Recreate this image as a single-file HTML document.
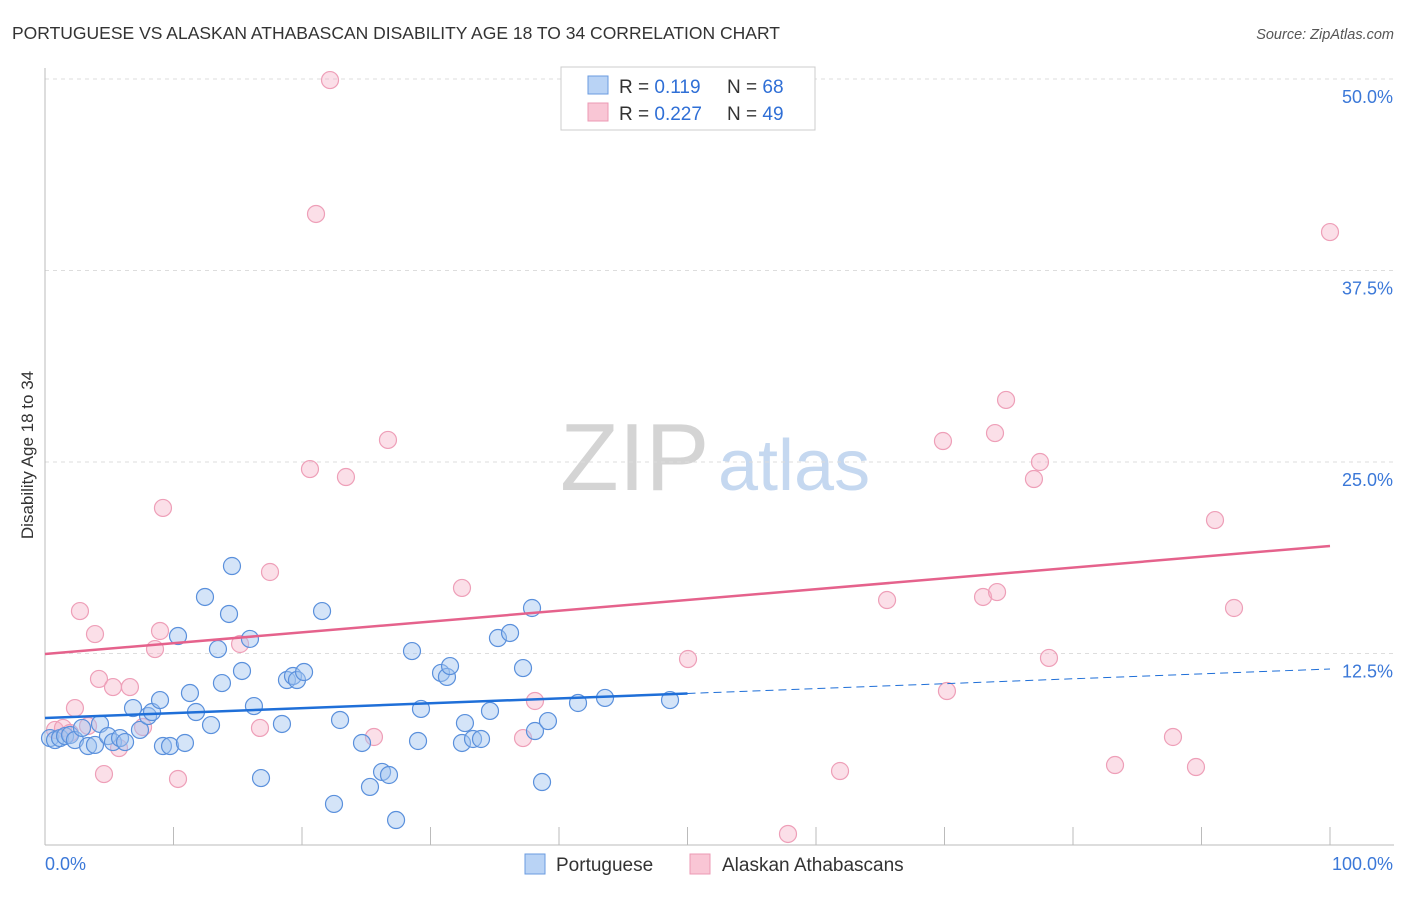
<!DOCTYPE html>
<html><head><meta charset="utf-8"><style>
body{margin:0;background:#fff;font-family:"Liberation Sans",sans-serif}
svg text{font-family:"Liberation Sans",sans-serif}
</style></head><body>
<svg id="chart" width="1406" height="892">
<text x="12" y="39" font-size="17.5" fill="#333">PORTUGUESE VS ALASKAN ATHABASCAN DISABILITY AGE 18 TO 34 CORRELATION CHART</text>
<text x="1394" y="39" font-size="14.5" fill="#555" font-style="italic" text-anchor="end">Source: ZipAtlas.com</text>
<text x="560" y="490" font-size="96" fill="#d4d4d4" font-family="Liberation Serif">ZIP</text>
<text x="718" y="490" font-size="72" fill="#c5d8f0">atlas</text>
<g id="grid"></g><g id="axes"></g><g id="marks"></g>
<text transform="translate(33,455) rotate(-90)" font-size="17" fill="#333" text-anchor="middle">Disability Age 18 to 34</text>
<g>
<rect x="561" y="67" width="254" height="63" fill="#fff" stroke="#ccc"/>
<rect x="588" y="76" width="20" height="18" fill="#b9d3f5" stroke="#6a9be0"/>
<rect x="588" y="103" width="20" height="18" fill="#f9c6d5" stroke="#ec9ab4"/>
<text x="619" y="93" font-size="19" fill="#333">R = <tspan fill="#2f6fd6"> 0.119</tspan><tspan x="727">N = </tspan><tspan fill="#2f6fd6">68</tspan></text>
<text x="619" y="120" font-size="19" fill="#333">R = <tspan fill="#2f6fd6">0.227</tspan><tspan x="727">N = </tspan><tspan fill="#2f6fd6">49</tspan></text>
</g>
<g>
<rect x="525" y="854" width="20" height="20" fill="#b9d3f5" stroke="#6a9be0"/>
<text x="556" y="871" font-size="19" fill="#333">Portuguese</text>
<rect x="690" y="854" width="20" height="20" fill="#f9c6d5" stroke="#ec9ab4"/>
<text x="722" y="871" font-size="19" fill="#333">Alaskan Athabascans</text>
</g>
</svg>
<script>
const yTicks=[12.5,25,37.5,50];
const yTickLabels=["12.5%","25.0%","37.5%","50.0%"];
const xTicks=[0,10,20,30,40,50,60,70,80,90,100];
const blueX=[0.39,0.78,1.17,1.56,1.95,2.33,2.88,3.35,3.89,4.28,4.90,5.29,5.84,6.23,6.85,7.39,8.02,8.33,8.95,9.18,9.73,10.35,10.89,11.28,11.75,12.45,12.92,13.46,13.77,14.32,14.55,15.33,15.95,16.26,16.81,18.44,18.83,19.30,19.61,20.16,21.56,22.49,22.96,24.67,25.29,26.23,26.77,27.32,28.56,29.26,29.03,30.82,31.28,31.52,32.45,32.68,33.31,33.93,34.63,35.25,36.19,37.20,37.90,38.13,38.68,39.14,41.48,43.58,48.64];
const blueY=[6.98,6.85,6.98,7.11,7.18,6.85,7.64,6.46,6.53,7.90,7.11,6.72,6.98,6.72,8.94,7.51,8.42,8.68,9.46,6.46,6.46,13.64,6.66,9.92,8.68,16.19,7.83,12.79,10.57,15.08,18.21,11.36,13.45,9.07,4.37,7.90,10.77,11.03,10.77,11.29,15.27,2.68,8.16,6.66,3.79,4.77,4.57,1.63,12.66,8.88,6.79,11.23,10.97,11.68,6.66,7.96,6.92,6.92,8.75,13.51,13.84,11.55,15.47,7.44,4.11,8.09,9.27,9.60,9.46];
const pinkX=[0.78,1.40,1.95,2.33,2.72,3.35,3.89,4.20,4.59,5.29,5.76,6.61,7.63,8.56,8.95,9.18,10.35,15.18,16.73,17.51,20.62,21.09,22.18,23.42,25.60,26.69,32.45,37.20,38.13,50.04,57.82,61.87,65.53,69.88,70.19,73.00,73.93,74.09,74.79,76.96,77.43,78.13,83.27,87.78,89.57,91.05,92.53,100];
const pinkY=[7.51,7.64,7.31,8.94,15.27,7.77,13.77,10.84,4.63,10.31,6.33,10.31,7.70,12.79,13.97,22.00,4.31,13.12,7.64,17.82,24.54,41.19,49.93,24.02,7.05,26.44,16.78,6.98,9.40,12.14,0.72,4.83,15.99,26.37,10.05,16.19,26.89,16.51,29.05,23.89,25.00,12.21,5.22,7.05,5.09,21.21,15.47,40.01];
const blueTrend=[8.29,11.49]; // y at x=0 and x=100
const blueSolidEnd=50;
const pinkTrend=[12.47,19.52];

const X0=45,X1=1330,Y0=845,PXPCT=15.32;
const sx=v=>X0+(X1-X0)*v/100;
const sy=v=>Y0-v*PXPCT;
const NS="http://www.w3.org/2000/svg";
function mk(parent,tag,attrs){const e=document.createElementNS(NS,tag);for(const k in attrs)e.setAttribute(k,attrs[k]);document.getElementById(parent).appendChild(e);return e;}
// grid
yTicks.forEach((t,i)=>{
 const g=mk('grid','line',{x1:X0,x2:1394,y1:sy(t),y2:sy(t),stroke:'#ddd','stroke-dasharray':'4,4'});
 
 
 const l=mk('grid','text',{x:1393,y:sy(t)+24,'font-size':18,fill:'#3b78d8','text-anchor':'end'});
 l.textContent=yTickLabels[i];
 
 
});
const ax=mk('axes','line',{x1:X0,x2:X0,y1:68,y2:Y0,stroke:'#bbb'});


const bx=mk('axes','line',{x1:X0,x2:1394,y1:Y0,y2:Y0,stroke:'#bbb'});


xTicks.forEach(t=>{
 const k=mk('axes','line',{x1:sx(t),x2:sx(t),y1:Y0-18,y2:Y0,stroke:'#bbb'});
 
 
});
const xl0=mk('axes','text',{x:45,y:870,'font-size':18,fill:'#3b78d8'});xl0.textContent='0.0%';


const xl1=mk('axes','text',{x:1393,y:870,'font-size':18,fill:'#3b78d8','text-anchor':'end'});xl1.textContent='100.0%';


// points
pinkX.forEach((v,i)=>{
 const c=mk('marks','circle',{cx:sx(v),cy:sy(pinkY[i]),r:8.5,fill:'rgba(246,175,197,0.4)',stroke:'#ee9fb8','stroke-width':1.2});
 
 
});
blueX.forEach((v,i)=>{
 const c=mk('marks','circle',{cx:sx(v),cy:sy(blueY[i]),r:8.5,fill:'rgba(160,196,240,0.45)',stroke:'#5a90dc','stroke-width':1.2});
 
 
});
const by=x=>blueTrend[0]+(blueTrend[1]-blueTrend[0])*x/100;
const t1=mk('marks','line',{x1:sx(0),y1:sy(by(0)),x2:sx(blueSolidEnd),y2:sy(by(blueSolidEnd)),stroke:'#1f6fd8','stroke-width':2.5});


const t2=mk('marks','line',{x1:sx(blueSolidEnd),y1:sy(by(blueSolidEnd)),x2:sx(100),y2:sy(by(100)),stroke:'#1f6fd8','stroke-width':1,'stroke-dasharray':'8,5'});


const t3=mk('marks','line',{x1:sx(0),y1:sy(pinkTrend[0]),x2:sx(100),y2:sy(pinkTrend[1]),stroke:'#e5628c','stroke-width':2.5});


</script>
</body></html>
